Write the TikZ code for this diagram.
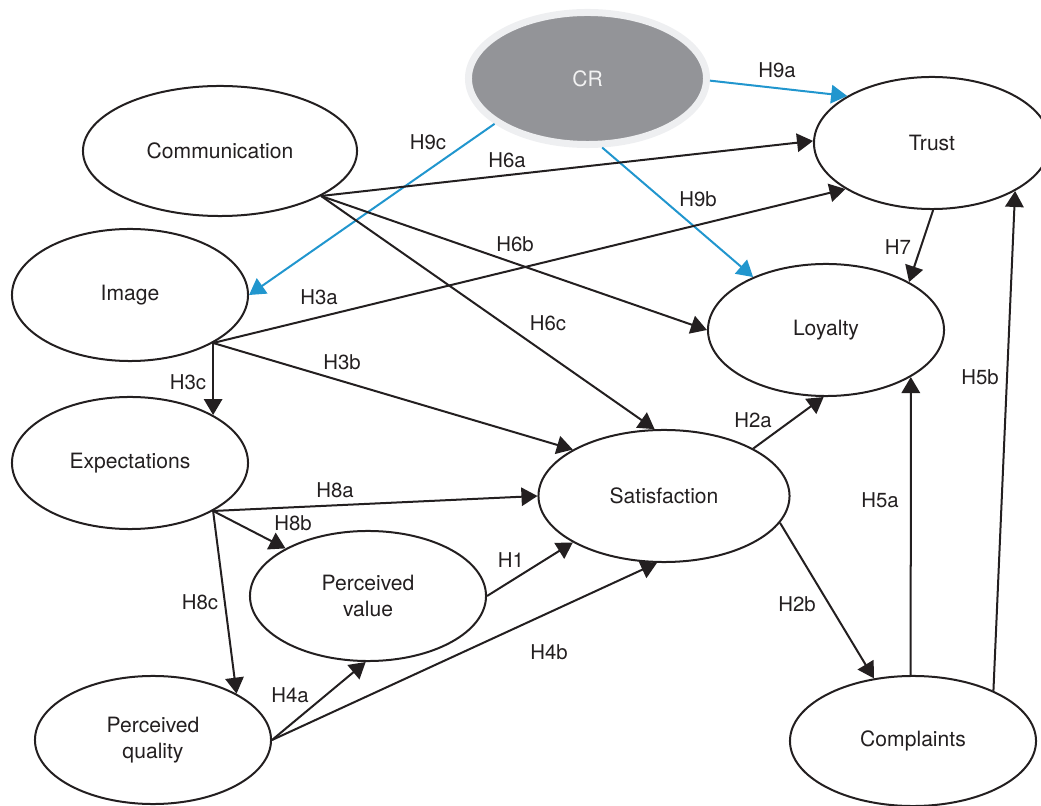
\documentclass[tikz,border=0pt]{standalone}
\usepackage{fontspec}
\setmainfont{TeX Gyre Heros}
\usetikzlibrary{shapes.geometric,arrows.meta}
\definecolor{ink}{RGB}{35,31,32}
\definecolor{crgray}{RGB}{147,148,152}
\definecolor{crring}{RGB}{238,239,241}
\definecolor{crtext}{RGB}{242,242,242}
\definecolor{crblue}{RGB}{33,150,206}

\begin{document}
\begin{tikzpicture}[x=0.025cm,y=-0.025cm,
    ell/.style={ellipse,draw=ink,line width=0.05cm,minimum width=5.9cm,minimum height=3.3cm,
        inner sep=0pt,align=center,text=ink,font=\fontsize{15}{18.5}\selectfont},
    arr/.style={draw=ink,line width=0.05cm,-{Triangle[length=0.4cm,width=0.46cm]}},
    lab/.style={inner sep=0pt,text=ink,font=\fontsize{14.5}{17}\selectfont}]
\useasboundingbox (0,0) rectangle (1041,806);
\node[ell,draw=crring,fill=crgray,text=crtext,line width=0.175cm,minimum width=5.95cm] (cr) at (587.5,78.5) {CR};
\node[ell,minimum width=6.85cm,minimum height=3.25cm] (comm) at (220,151) {Communication};
\node[ell] (trust) at (932,143) {Trust};
\node[ell] (image) at (130,295) {Image};
\node[ell] (loyalty) at (826,330) {Loyalty};
\node[ell] (expect) at (130,463) {Expectations};
\node[ell,minimum width=6.275cm] (satis) at (664,496) {Satisfaction};
\node[ell,minimum height=3.25cm] (pvalue) at (368,596) {Perceived\\value};
\node[ell,minimum height=3.2cm] (pquality) at (153,740) {Perceived\\quality};
\node[ell,minimum width=6.15cm,minimum height=3.25cm] (compl) at (913,741) {Complaints};
\foreach \s/\t in {cr.-1/trust.151, cr.206/image.0, cr.-78/loyalty.144}
    \draw[arr,draw=crblue] (\s)--(\t);
\foreach \s/\t in {comm.-24/trust.179, comm.-24/loyalty.180, comm.-24/satis.98,
    image.-30/trust.208, image.-30/satis.153, image.-30/expect.30,
    expect.-30/satis.180, expect.-30/pvalue.150, expect.-30/pquality.29,
    pvalue.0/satis.207, pquality.0/pvalue.-92, pquality.0/satis.-96,
    satis.28/loyalty.-92, satis.-13/compl.122, compl.92/loyalty.-29,
    compl.32/trust.-30, trust.-89/loyalty.30}
    \draw[arr] (\s)--(\t);
\foreach \l/\x/\y in {H9a/777/70, H9c/428/142, H6a/507/160, H9b/698/199, H6b/515/244,
    H3a/319/297, H3b/342/362, H3c/188/382, H6c/548/323, H8a/335/490, H8b/293/523,
    H8c/200/602, H1/511/560, H4a/290/695, H4b/549/652, H2a/753/420, H2b/797/604,
    H5a/880/500, H5b/980/377, H7/898/247}
    \node[lab] (l\l) at (\x,\y) {\l};
\end{tikzpicture}
\end{document}
